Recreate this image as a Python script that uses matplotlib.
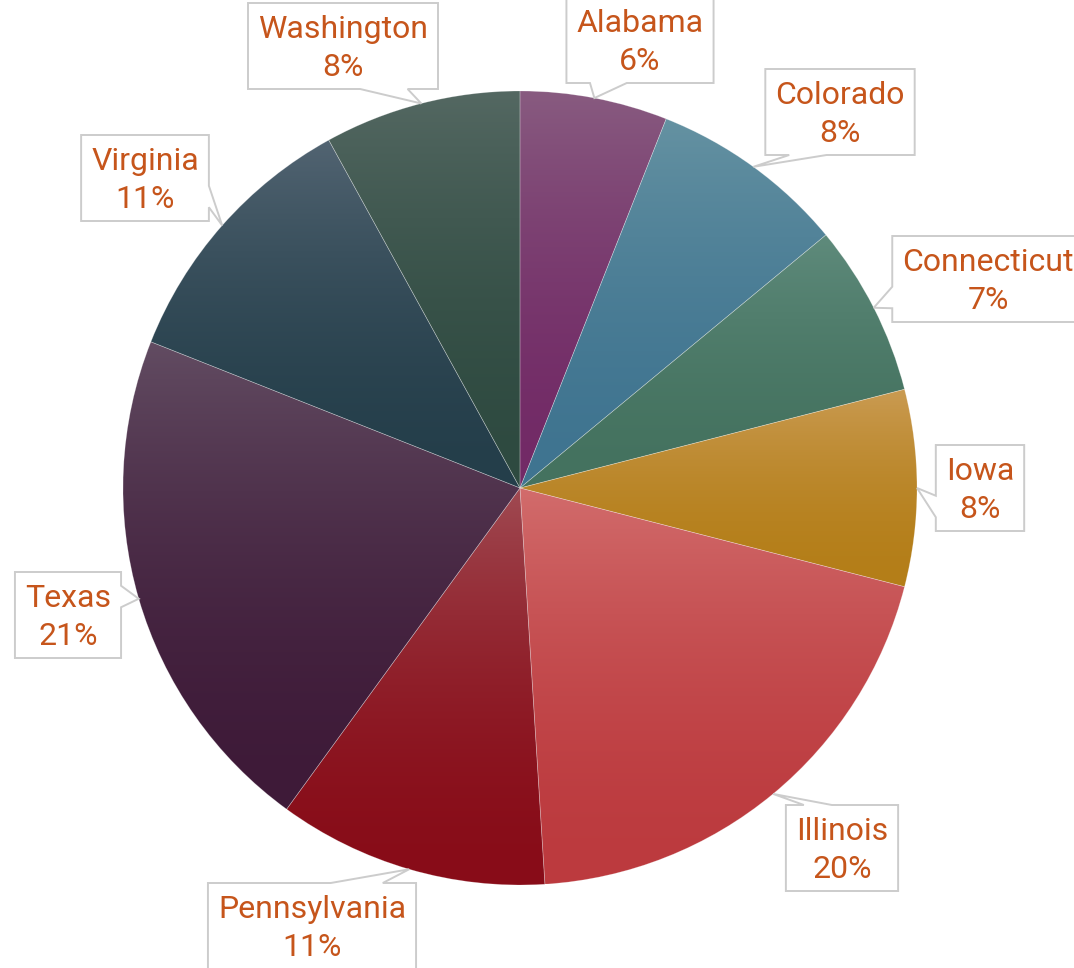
import numpy as np
import matplotlib
matplotlib.use("Agg")
import matplotlib.pyplot as plt
from matplotlib.colors import to_rgb
from matplotlib.patches import Polygon

# ---------------- data ----------------
states = ["Alabama", "Colorado", "Connecticut", "Iowa", "Illinois",
          "Pennsylvania", "Texas", "Virginia", "Washington"]
shares = [6, 8, 7, 8, 20, 11, 21, 11, 8]
pct_labels = ["6%", "8%", "7%", "8%", "20%", "11%", "21%", "11%", "8%"]

# ---------------- style ----------------
top_colors = ["#885b80", "#6592a2", "#5f8b7c", "#ca9b52", "#d26c6c",
              "#a04a52", "#624c62", "#526472", "#546862"]
bottom_colors = ["#722a66", "#3f7490", "#44725f", "#b47e18", "#bc3a3e",
                 "#880c18", "#3e1a38", "#243e4a", "#2e4a40"]
# label box centres (pixels, origin top-left)
label_centers = [(640, 40), (840, 112), (988, 279), (980, 488), (842, 848),
                 (312, 926), (68, 615), (145, 178), (343, 46)]

TEXT_COLOR = "#c6551b"
BOX_EDGE = "#cccccc"
FONT = "Roboto"
FS = 23

W, H = 1074, 968
CX, CY, R = 520, 488, 397

fig = plt.figure(figsize=(W / 100, H / 100), dpi=100)
ax = fig.add_axes([0, 0, 1, 1])

wedges, _ = ax.pie(shares, startangle=270, counterclock=True,
                   center=(CX, CY), radius=R, frame=True,
                   wedgeprops=dict(facecolor="none", edgecolor=(1, 1, 1, 0.28),
                                   linewidth=0.5))

for w, ct, cb in zip(wedges, top_colors, bottom_colors):
    w.set_zorder(2)
    ext = w.get_path().get_extents()
    n = 256
    t = np.linspace(0, 1, n)[:, None]
    f = 1 - (1 - t) ** 1.8
    c = (1 - f) * np.array(to_rgb(ct)) + f * np.array(to_rgb(cb))
    img = np.repeat(c[:, None, :], 2, axis=1)
    im = ax.imshow(img, extent=(ext.x0, ext.x1, ext.y1, ext.y0), origin="upper",
                   interpolation="bilinear", aspect="auto", zorder=1)
    im.set_clip_path(w)

ax.set_xlim(0, W)
ax.set_ylim(H, 0)
ax.set_aspect("auto")
ax.axis("off")

# texts
texts = []
for (cx, cy), name, pct in zip(label_centers, states, pct_labels):
    t1 = ax.text(cx, cy - 8, name, ha="center", va="baseline", fontsize=FS,
                 family=FONT, color=TEXT_COLOR, zorder=5)
    t2 = ax.text(cx, cy + 30, pct, ha="center", va="baseline", fontsize=FS,
                 family=FONT, color=TEXT_COLOR, zorder=5)
    texts.append((t1, t2))

fig.canvas.draw()
renderer = fig.canvas.get_renderer()

for w, (cx, cy), (t1, t2) in zip(wedges, label_centers, texts):
    mid = np.deg2rad((w.theta1 + w.theta2) / 2)
    tx = CX + R * np.cos(mid)
    ty = CY + R * np.sin(mid)
    tw = max(t1.get_window_extent(renderer).width,
             t2.get_window_extent(renderer).width)
    hw = tw / 2 + 10
    hh = 43
    L, Rr, T, B = cx - hw, cx + hw, cy - hh, cy + hh
    dx = (tx - cx) / hw
    dy = (ty - cy) / hh
    a, b = 0.16, 0.41
    if abs(dx) > abs(dy):
        side = "right" if dx > 0 else "left"
        hlen = 2 * hh
        if ty <= cy:
            p1, p2 = T + a * hlen, T + b * hlen
        else:
            p1, p2 = B - b * hlen, B - a * hlen
    else:
        side = "bottom" if dy > 0 else "top"
        hlen = 2 * hw
        if tx <= cx:
            p1, p2 = L + a * hlen, L + b * hlen
        else:
            p1, p2 = Rr - b * hlen, Rr - a * hlen
    verts = [(L, T)]
    if side == "top":
        verts += [(p1, T), (tx, ty), (p2, T)]
    verts.append((Rr, T))
    if side == "right":
        verts += [(Rr, p1), (tx, ty), (Rr, p2)]
    verts.append((Rr, B))
    if side == "bottom":
        verts += [(p2, B), (tx, ty), (p1, B)]
    verts.append((L, B))
    if side == "left":
        verts += [(L, p2), (tx, ty), (L, p1)]
    poly = Polygon(verts, closed=True, facecolor="white", edgecolor=BOX_EDGE,
                   linewidth=1.4, zorder=4, joinstyle="miter")
    ax.add_patch(poly)

fig.savefig("out.png", dpi=100, facecolor="white")
